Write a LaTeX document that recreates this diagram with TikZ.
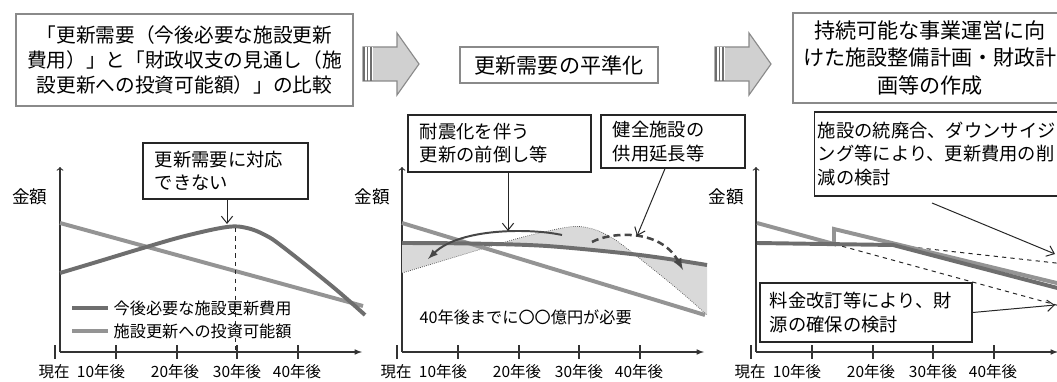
\documentclass[tikz,border=0pt]{standalone}
\usepackage{fontspec}
\setmainfont{Noto Sans CJK JP}
\usetikzlibrary{arrows.meta,positioning,calc}

\definecolor{needline}{HTML}{6E6E6E}
\definecolor{fundline}{HTML}{949494}
\definecolor{titleframe}{HTML}{8A8A8A}
\definecolor{blockfill}{HTML}{D0D0D0}
\definecolor{levelfill}{HTML}{D9D9D9}

\begin{document}
\begin{tikzpicture}[x=0.025cm, y=-0.025cm,
    title/.style={rectangle, draw=titleframe, line width=1.6pt, fill=white,
        font={\fontsize{15}{19.5}\selectfont}, align=center, inner sep=2pt},
    callout/.style={rectangle, draw=black!85, line width=0.9pt, fill=white,
        font={\fontsize{13}{16.5}\selectfont}, align=left, inner xsep=0.3cm, inner ysep=2pt},
    need/.style={needline, line width=2.8pt},
    fund/.style={fundline, line width=2.8pt},
    axis/.style={black!80, line width=0.8pt},
    tickmark/.style={black!80, line width=0.8pt},
    ticklbl/.style={font={\fontsize{11}{13}\selectfont}, inner sep=1pt},
    amount/.style={font={\fontsize{12.5}{14}\selectfont}, inner sep=1pt},
    legendtxt/.style={font={\fontsize{11.5}{13}\selectfont}, inner sep=1pt},
    pointer/.style={-{Straight Barb[length=5pt,width=8pt]}, black!85, line width=0.7pt},
    proj/.style={black!85, dashed, line width=0.7pt},
    shiftarrow/.style={->, >=latex, black!72, line width=1.4pt},
]
\clip (0,0) rectangle (1057,381);
\fill[white] (0,0) rectangle (1057,381);

% ---------- step titles ----------
\node[title, minimum width=8.425cm, minimum height=2.3cm,
      font={\fontsize{14}{18}\selectfont}] (t1) at (184.5,60)
  {「更新需要（今後必要な施設更新\\費用）」と「財政収支の見通し（施\\設更新への投資可能額）」の比較};
\node[title, minimum width=4.95cm, minimum height=0.9cm] (t2) at (559,65) {更新需要の平準化};
\node[title, minimum width=6.85cm, minimum height=2.25cm] (t3) at (930,58)
  {持続可能な事業運営に向\\けた施設整備計画・財政計\\画等の作成};

% ---------- block arrows ----------
\foreach \ax in {363,715}{
  \filldraw[fill=blockfill, draw=titleframe, line width=0.8pt]
    (\ax,47) -- (\ax+34,47) -- (\ax+34,33) -- (\ax+56,64) -- (\ax+34,95)
    -- (\ax+34,81) -- (\ax,81) -- cycle;
  \fill[white] (\ax+0.5,47.5) rectangle (\ax+10,80.5);
  \foreach \sx in {1,4.5,8}
    \draw[needline, line width=1.1pt] (\ax+\sx,47) -- (\ax+\sx,81);
}

% ---------- axes ----------
\foreach \ox/\pn in {60/1, 402/2, 756/3}{
  \begin{scope}[shift={(\ox,0)}]
    \node[amount] (amt\pn) at (-30,197) {金額};
    \draw[axis, ->, >=to] (0,352) -- (0,167);
    \draw[axis, -latex] (0,352) -- (302,352);
    \foreach \tx/\lx/\lab [count=\k] in {-5/-6/現在, 56/41/10年後, 117/115/20年後, 177/177/30年後, 238/237/40年後}{
      \draw[tickmark] (\tx,345) -- (\tx,359);
      \node[ticklbl] (yr\pn-\k) at (\lx,372) {\lab};
    }
  \end{scope}
}

% ---------- panel 1: comparison ----------
\draw[fund] (60,223) -- (363,306);
\draw[need] plot[smooth, tension=0.6] coordinates {(60,273) (100,261) (143,248) (185,236)
  (227,227) (247,228) (265,235) (283,247) (333,287) (365,315)};
\draw[proj] (235,228) -- (235,352);

\node[legendtxt, anchor=west] (lg1) at (112,308) {今後必要な施設更新費用};
\node[legendtxt, anchor=west] (lg2) at (112,331) {施設更新への投資可能額};
\draw[need] ($(lg1.west)+(-40,0)$) -- ($(lg1.west)+(-4,0)$);
\draw[fund] ($(lg2.west)+(-40,0)$) -- ($(lg2.west)+(-4,0)$);

\node[callout, text width=3.525cm, minimum height=1.4cm] (c1) at (225.5,171)
  {更新需要に対応\\できない};
\coordinate (peak1) at (227,224);
\draw[pointer] (c1.south -| peak1) -- (peak1);

% ---------- panel 2: levelling ----------
\fill[levelfill] plot[smooth] coordinates {(402,243) (470,243.5) (547,246) (640,255) (707,265)}
  -- plot[smooth, tension=0.6] coordinates {(707,315) (675,287) (625,247) (607,235) (589,228)
  (569,227) (527,236) (485,248) (442,261) (402,273)} -- cycle;
\draw[black!70, densely dotted, line width=0.5pt] plot[smooth, tension=0.6] coordinates {(402,273)
  (442,261) (485,248) (527,236) (569,227) (589,228) (607,235) (625,247) (675,287) (707,315)};
\draw[fund] (402,223) -- (705,315);
\draw[need] plot[smooth] coordinates {(402,243) (470,243.5) (547,246) (640,255) (707,265)};

\coordinate (fwd-s) at (562,235);
\coordinate (fwd-e) at (428,259);
\draw[shiftarrow] (fwd-s) .. controls (530,228) and (460,228) .. (fwd-e);
\coordinate (ext-s) at (592,242);
\coordinate (ext-e) at (683,270);
\draw[shiftarrow, dash pattern=on 5pt off 3pt, line width=1.8pt]
  (ext-s) .. controls (610,232) and (660,228) .. (ext-e);

\node[legendtxt, anchor=west] (need40) at (418,317) {40年後までに〇〇億円が必要};

\node[callout, text width=3.975cm, minimum height=1.425cm] (c2) at (499.5,143.5)
  {耐震化を伴う\\更新の前倒し等};
\node[callout, text width=3.0cm, minimum height=1.325cm] (c3) at (673,141.5)
  {健全施設の\\供用延長等};
\coordinate (tgt2a) at (508,231);
\coordinate (tgt2b) at (637,236);
\draw[pointer] (c2.south -| tgt2a) -- (tgt2a);
\draw[pointer] ($(c3.south)+(-8,0)$) -- (tgt2b);

% ---------- panel 3: plan ----------
\draw[proj] (834,244) -- (1060,306);
\draw[proj] (893,245) -- (1065,264);
\draw[fund] (757,223) -- (834,244) -- (834,229) -- (1065,285);
\draw[need] (757,243) -- (893,245) -- (1065,290);

\node[callout, inner xsep=0.08cm, text width=6.35cm, minimum height=2.1cm] (c4) at (945,154)
  {施設の統廃合、ダウンサイジ\\ング等により、更新費用の削\\減の検討};
\node[callout, inner xsep=0.25cm, text width=4.8cm, minimum height=1.475cm] (c5) at (866,312.5)
  {料金改訂等により、財\\源の確保の検討};
\coordinate (src3a) at (932,203);
\coordinate (tgt3a) at (1055,254);
\coordinate (tgt3b) at (1055,305);
\draw[pointer] (src3a) -- (tgt3a);
\draw[pointer] (c5.east) -- (tgt3b);

\end{tikzpicture}
\end{document}
